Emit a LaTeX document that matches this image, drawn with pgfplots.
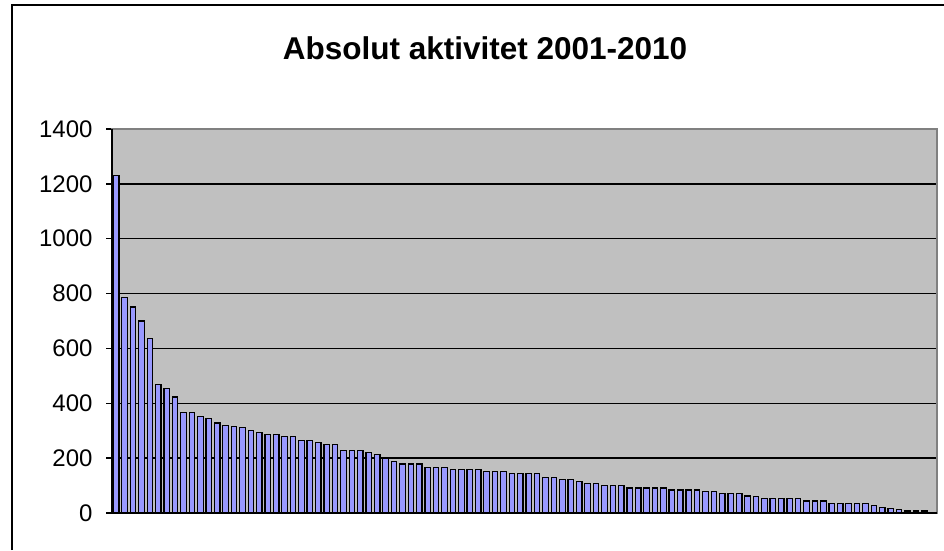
\documentclass[border=0pt]{standalone}
\usepackage{fontspec}
\setmainfont{Liberation Sans}
\usepackage{pgfplots}
\usepackage{pgfplotstable}
\pgfplotsset{compat=1.18}
\definecolor{barfill}{HTML}{9999FF}
\definecolor{plotbg}{HTML}{C0C0C0}
\definecolor{frame}{HTML}{808080}
\pgfplotstableread{
x y
1 1230
2 787
3 751
4 700
5 636
6 469
7 455
8 423
9 365
10 365
11 351
12 344
13 328
14 320
15 314
16 313
17 300
18 293
19 286
20 286
21 279
22 279
23 264
24 264
25 257
26 250
27 250
28 229
29 229
30 229
31 221
32 213
33 198
34 187
35 179
36 179
37 179
38 165
39 165
40 165
41 158
42 158
43 158
44 158
45 151
46 151
47 151
48 143
49 143
50 143
51 143
52 129
53 129
54 122
55 122
56 114
57 107
58 107
59 100
60 100
61 100
62 91
63 91
64 91
65 91
66 91
67 84
68 84
69 84
70 84
71 77
72 77
73 70
74 70
75 70
76 62
77 61
78 52
79 52
80 52
81 52
82 52
83 44
84 44
85 44
86 36
87 36
88 36
89 36
90 34
91 28
92 20
93 15
94 12
95 7
96 7
97 7
98 0
}\datatable
\begin{document}
\begin{tikzpicture}
\path[use as bounding box] (0,0) rectangle (944pt,550pt);
\draw[line width=2pt] (11.5pt,0) -- (11.5pt,544.5pt) -- (944pt,544.5pt);
\node[font=\fontsize{31.5pt}{36pt}\selectfont\bfseries] at (485pt,502pt) {Absolut aktivitet 2001-2010};
\begin{axis}[
  at={(112pt,37pt)}, anchor=south west,
  scale only axis, width=825pt, height=384pt,
  xmin=0.5, xmax=98.5, ymin=0, ymax=1400,
  xtick=\empty,
  ytick={0,200,...,1400},
  ytick pos=left,
  ymajorgrids,
  grid style={black, line width=1.5pt},
  axis background/.style={fill=plotbg},
  axis line style={frame, line width=1.5pt},
  tick align=outside,
  major tick length=6pt,
  ytick style={black, line width=1.5pt},
  ticklabel style={font=\fontsize{24pt}{28pt}\selectfont},
  /pgf/number format/assume math mode=true,
  /pgf/number format/1000 sep={},
  yticklabel style={xshift=-10pt},
  clip=false,
]
\addplot[ybar, bar width=5.5pt, fill=barfill, draw=black, line width=1.2pt] table[x=x,y=y] {\datatable};
\draw[black, line width=2pt] (rel axis cs:0,1) -- (rel axis cs:0,0) -- (rel axis cs:1,0);
\end{axis}
\end{tikzpicture}
\end{document}
